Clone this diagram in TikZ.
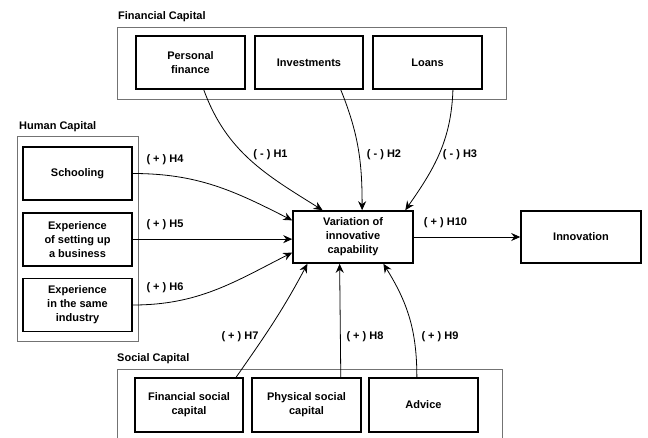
\documentclass[tikz,border=0pt]{standalone}
\usepackage{fontspec}
\setmainfont{Liberation Sans}
\usetikzlibrary{calc,arrows.meta}
\begin{document}
\begin{tikzpicture}[x=1pt,y=-1pt,
  box/.style={draw=black,line width=1.6pt,minimum width=109pt,minimum height=53pt,inner sep=1pt,align=center,font=\fontsize{11}{14}\selectfont\bfseries},
  grp/.style={draw=black!55,line width=0.8pt},
  ttl/.style={anchor=west,inner sep=0pt,font=\fontsize{11}{13}\selectfont\bfseries},
  lbl/.style={inner sep=0pt,font=\fontsize{11}{13}\selectfont\bfseries},
  arr/.style={draw=black,line width=0.8pt,-{Stealth[length=9pt,width=8pt,inset=3pt]}}]
\useasboundingbox (0,0) rectangle (648,437);
\begin{scope}
\clip (0,0) rectangle (648,437);
% group frames
\node[grp,minimum width=388.5pt,minimum height=72pt,inner sep=0pt] (fc) at (311.75,63) {};
\node[grp,minimum width=121pt,minimum height=205pt,inner sep=0pt] (hc) at (77.5,238.5) {};
\node[grp,minimum width=385pt,minimum height=80pt,inner sep=0pt] (sc) at (309.5,409) {};
\end{scope}
\node[ttl] (fct) at (118,17) {Financial Capital};
\node[ttl] (hct) at (19,127) {Human Capital};
\node[ttl] (sct) at (117,359) {Social Capital};
% financial
\node[box] (pf) at (190.5,62.5) {Personal\\finance};
\node[box,minimum width=108pt] (inv) at (309,62.5) {Investments};
\node[box] (loan) at (427.5,62.5) {Loans};
% human
\node[box] (sch) at (77.5,173.5) {Schooling};
\node[box] (exb) at (77.5,239.5) {Experience\\of setting up\\a business};
\node[box] (exi) at (77.5,305) {Experience\\in the same\\industry};
% center
\node[box,minimum width=120pt,minimum height=52pt] (var) at (353,237) {Variation of\\innovative\\capability};
\node[box,minimum width=120pt,minimum height=52pt] (inn) at (581,237) {Innovation};
% social
\node[box,minimum width=108pt,minimum height=54pt] (fsc) at (189,405) {Financial social\\capital};
\node[box,minimum height=54pt] (psc) at (306.5,405) {Physical social\\capital};
\node[box,minimum height=54pt] (adv) at (423.5,405) {Advice};
% coordinates
\coordinate (pfo) at ($(pf.south west)!0.62!(pf.south east)$);
\coordinate (invo) at ($(inv.south west)!0.79!(inv.south east)$);
\coordinate (loano) at ($(loan.south west)!0.73!(loan.south east)$);
\coordinate (v1) at ($(var.north west)!0.25!(var.north east)$);
\coordinate (v2) at ($(var.north west)!0.575!(var.north east)$);
\coordinate (v3) at ($(var.north west)!0.93!(var.north east)$);
\coordinate (v4) at ($(var.north west)!0.19!(var.south west)$);
\coordinate (v5) at ($(var.north west)!0.54!(var.south west)$);
\coordinate (v6) at ($(var.north west)!0.79!(var.south west)$);
\coordinate (v7) at ($(var.south west)!0.125!(var.south east)$);
\coordinate (v8) at ($(var.south west)!0.39!(var.south east)$);
\coordinate (v9) at ($(var.south west)!0.75!(var.south east)$);
\coordinate (fso) at ($(fsc.north west)!0.93!(fsc.north east)$);
\coordinate (pso) at ($(psc.north west)!0.81!(psc.north east)$);
\coordinate (ado) at ($(adv.north west)!0.44!(adv.north east)$);
% arrows
\draw[arr] (pfo) to[out=-70,in=148] (v1);
\draw[arr] (invo) to[out=-68,in=90] (v2);
\draw[arr] (loano) to[out=-92,in=55] (v3);
\draw[arr] (sch.east) to[out=0,in=153] (v4);
\draw[arr] (exb.east |- v5) -- (v5);
\draw[arr] (exi.east) to[out=0,in=-153] (v6);
\draw[arr] (fso) to[out=55,in=-118] (v7);
\draw[arr] (pso) -- (v8);
\draw[arr] (ado) to[out=90,in=-58] (v9);
\draw[arr] (var.east) -- (inn.west);
% labels
\node[lbl] (l1) at (270.5,155) {( - ) H1};
\node[lbl] (l2) at (384,155) {( - ) H2};
\node[lbl] (l3) at (460,155) {( - ) H3};
\node[lbl] (l4) at (165,160) {( + ) H4};
\node[lbl] (l5) at (165,225) {( + ) H5};
\node[lbl] (l6) at (165,288) {( + ) H6};
\node[lbl] (l7) at (240,337) {( + ) H7};
\node[lbl] (l8) at (365,337) {( + ) H8};
\node[lbl] (l9) at (440,337) {( + ) H9};
\node[lbl] (l10) at (445.5,223) {( + ) H10};
\end{tikzpicture}
\end{document}
